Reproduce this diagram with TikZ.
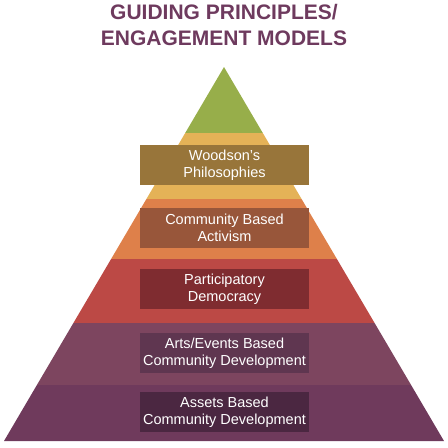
\documentclass[tikz,border=0pt]{standalone}
\usepackage{fontspec}
\setmainfont{Liberation Sans}
\usetikzlibrary{positioning}
\definecolor{titlecol}{HTML}{6E3A5E}
\definecolor{lgreen}{HTML}{97AE4A}
\definecolor{lyellow}{HTML}{E4B257}
\definecolor{lorange}{HTML}{DE804A}
\definecolor{lred}{HTML}{BC4945}
\definecolor{lmauve}{HTML}{7D455F}
\definecolor{lpurple}{HTML}{6F3A5C}
\definecolor{bbrown}{HTML}{98753A}
\definecolor{brust}{HTML}{98563A}
\definecolor{bred}{HTML}{7F2C30}
\definecolor{bmauve}{HTML}{5F3650}
\definecolor{bpurple}{HTML}{4B2741}

\begin{document}
\begin{tikzpicture}[x=1pt,y=-1pt,
		tierbox/.style={minimum width=169pt,minimum height=40pt,inner sep=0pt,align=center,text=white,font=\fontsize{14.5}{17}\selectfont},
		heading/.style={text=titlecol,align=center,font=\fontsize{21}{25.5}\selectfont\bfseries}]
			\useasboundingbox (0,0) rectangle (448,448);

			% pyramid layers, top to bottom
			\fill[lgreen]	(224,67) -- (185.2,133) -- (262.8,133) -- cycle;
			\fill[lyellow]	(185.2,133) -- (262.8,133) -- (301.6,199) -- (146.4,199) -- cycle;
			\fill[lorange]	(146.4,199) -- (301.6,199) -- (336.9,259) -- (111.1,259) -- cycle;
			\fill[lred]		(111.1,259) -- (336.9,259) -- (374.6,323) -- (73.4,323) -- cycle;
			\fill[lmauve]	(73.4,323) -- (374.6,323) -- (411.1,385) -- (36.9,385) -- cycle;
			\fill[lpurple]	(36.9,385) -- (411.1,385) -- (444,441) -- (4,441) -- cycle;

			\node	[heading]				(title)		at (224,25)		{GUIDING PRINCIPLES/\\ENGAGEMENT MODELS};

			\node	[tierbox,fill=bbrown]	(woodson)	at (224.5,165)	{Woodson’s\\Philosophies};
			\node	[tierbox,fill=brust]	(activism)	at (224.5,228)	{Community Based\\Activism};
			\node	[tierbox,fill=bred]		(democracy)	at (224.5,289)	{Participatory\\Democracy};
			\node	[tierbox,fill=bmauve]	(arts)		at (224.5,353)	{Arts/Events Based\\Community Development};
			\node	[tierbox,fill=bpurple]	(assets)	at (224.5,412)	{Assets Based\\Community Development};
		\end{tikzpicture}
\end{document}
